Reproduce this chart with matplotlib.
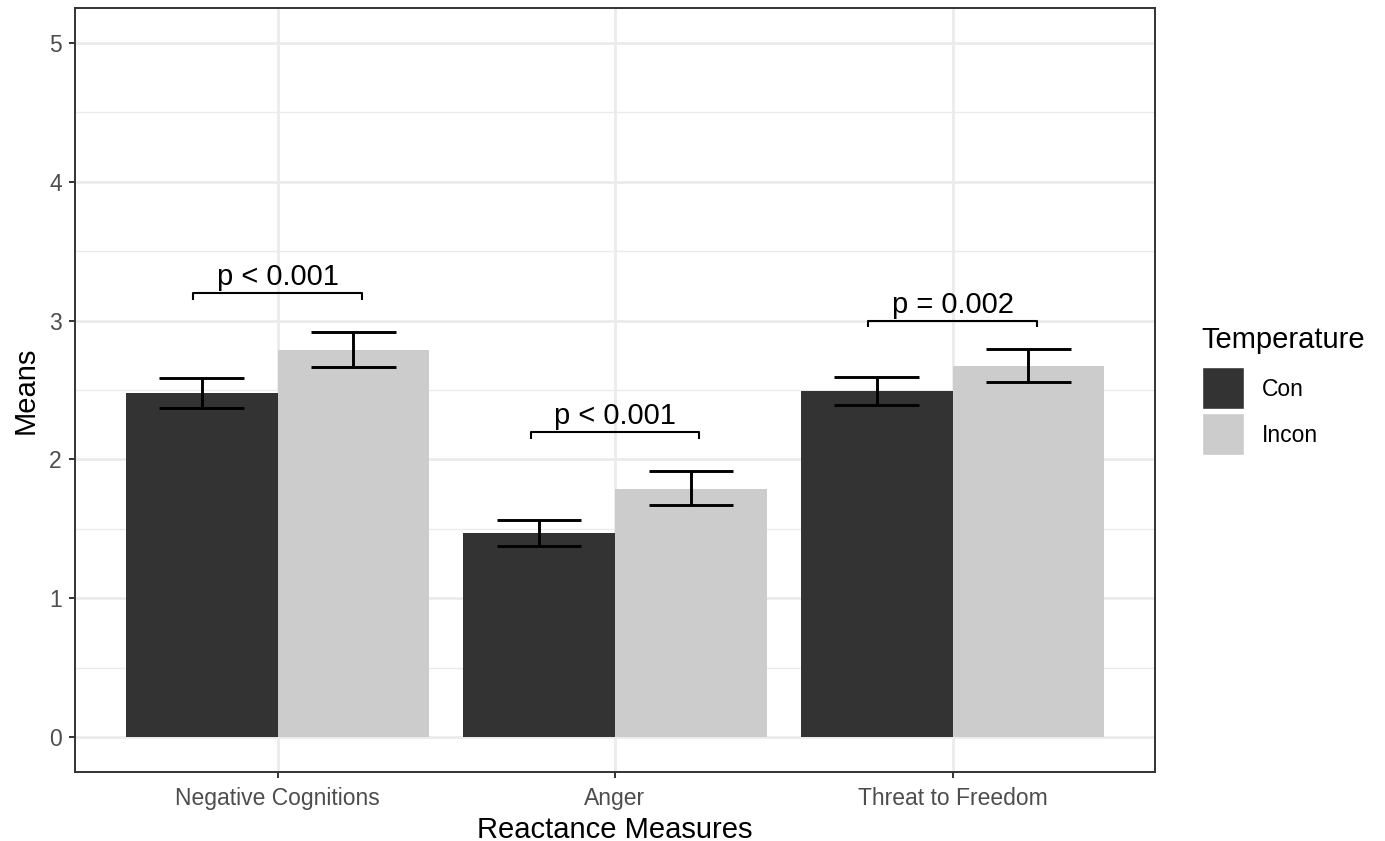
import matplotlib
matplotlib.use("Agg")
import matplotlib.pyplot as plt
import numpy as np
from matplotlib.patches import Rectangle

# ---- data ----
categories = ["Negative Cognitions", "Anger", "Threat to Freedom"]
groups = ["Con", "Incon"]
con_means = [2.478, 1.470, 2.495]
con_lower = [2.368, 1.377, 2.394]
con_upper = [2.584, 1.561, 2.596]
incon_means = [2.787, 1.789, 2.672]
incon_lower = [2.663, 1.669, 2.559]
incon_upper = [2.917, 1.920, 2.792]
sig_labels = ["p < 0.001", "p < 0.001", "p = 0.002"]
sig_heights = [3.2, 2.2, 3.0]
y_ticks = [0, 1, 2, 3, 4, 5]

colors = {"Con": "#333333", "Incon": "#CCCCCC"}

plt.rcParams['font.family'] = ['Liberation Sans', 'DejaVu Sans']

W, H = 1385, 841
fig = plt.figure(figsize=(W / 100, H / 100), dpi=100)
ax = fig.add_axes([75 / W, 1 - 772 / H, (1155 - 75) / W, (772 - 8) / H])

x = np.arange(1, len(categories) + 1)
bw = 0.45
cap = 0.125

ax.set_axisbelow(True)
for xx, m, lo, hi, off, g in [(x, con_means, con_lower, con_upper, -bw / 2, "Con"),
                              (x, incon_means, incon_lower, incon_upper, bw / 2, "Incon")]:
    pos = xx + off
    ax.bar(pos, m, width=bw, color=colors[g], zorder=2, linewidth=0)
    ax.vlines(pos, lo, hi, color="black", lw=2.1, zorder=3)
    ax.hlines(lo, pos - cap, pos + cap, color="black", lw=2.1, zorder=3)
    ax.hlines(hi, pos - cap, pos + cap, color="black", lw=2.1, zorder=3)

# significance brackets
tick = 0.05
for xi, h, lab in zip(x, sig_heights, sig_labels):
    ax.plot([xi - 0.25, xi - 0.25, xi + 0.25, xi + 0.25], [h - tick, h, h, h - tick],
            color="black", lw=1.5, zorder=4, solid_capstyle="butt")
    ax.text(xi, h + 0.01, lab, ha="center", va="bottom", fontsize=21, color="black", zorder=5)

ax.set_xlim(0.4, 3.6)
ax.set_ylim(-0.25, 5.25)
ax.set_xticks(x)
ax.set_xticklabels(categories)
ax.set_yticks(y_ticks)
ax.set_yticks(np.arange(0.5, 5.0, 1.0), minor=True)

ax.grid(True, which="major", color="#EBEBEB", lw=2.0, zorder=0)
ax.grid(True, which="minor", axis="y", color="#EBEBEB", lw=1.0, zorder=0)
ax.tick_params(axis="x", which="major", pad=6.5)
ax.tick_params(axis="y", which="major", pad=5)
ax.tick_params(axis="both", which="major", length=4.5, width=1.4, color="#333333",
               labelcolor="#4D4D4D", labelsize=16.5)
ax.tick_params(axis="both", which="minor", length=0)
for s in ax.spines.values():
    s.set_color("#333333")
    s.set_linewidth(1.4)

ax.set_xlabel("Reactance Measures", fontsize=21, color="black", labelpad=4)
ax.set_ylabel("Means", fontsize=21, color="black", labelpad=7)

# legend (manual, ggplot style)
fig.text(1201 / W, 1 - 348 / H, "Temperature", fontsize=21, ha="left", va="baseline")
for i, g in enumerate(groups):
    y0 = 367 + i * 46
    fig.patches.append(Rectangle((1202 / W, 1 - (y0 + 42) / H), 42 / W, 42 / H,
                                 transform=fig.transFigure, facecolor=colors[g],
                                 edgecolor="white", lw=1))
    fig.text(1262 / W, 1 - (y0 + 22) / H, g, fontsize=16.5, ha="left", va="center")

fig.savefig("out.png", dpi=100, facecolor="white")
